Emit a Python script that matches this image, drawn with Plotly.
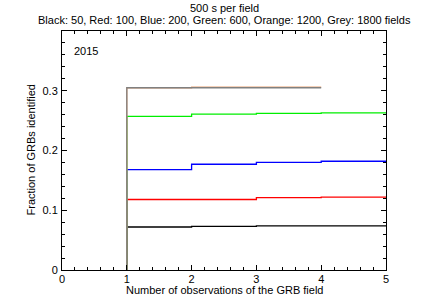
import plotly.graph_objects as go

# Data (step values starting at x=1)
x_full = [1, 2, 3, 4, 5]
x_short = [1, 2, 3, 4]
black = [0.072, 0.073, 0.074, 0.074]
red = [0.118, 0.118, 0.121, 0.122]
blue = [0.168, 0.177, 0.180, 0.182]
green = [0.257, 0.261, 0.262, 0.263]
orange = [0.305, 0.306, 0.306]
grey = [0.305, 0.305, 0.305]

y_tickvals = [0, 0.1, 0.2, 0.3]
y_ticktext = ["0", "0.1", "0.2", "0.3"]

series = [
    ("Black", black, x_full, "#000000"),
    ("Red", red, x_full, "#ff0000"),
    ("Blue", blue, x_full, "#0000ff"),
    ("Green", green, x_full, "#00ee00"),
    ("Orange", orange, x_short, "#e8a070"),
    ("Grey", grey, x_short, "#808080"),
]

fig = go.Figure()
for name, vals, xs, col in series:
    xx = [xs[0]] + list(xs[:len(vals)]) + [xs[len(vals)]]
    yy = [0] + list(vals) + [vals[-1]]
    fig.add_trace(go.Scatter(x=xx, y=yy, mode="lines", line=dict(color=col, width=1.3, shape="hv"),
                             name=name, showlegend=False, hoverinfo="skip"))

font = dict(family="Liberation Sans, Arial, sans-serif", size=11, color="black")
fig.update_layout(
    width=442, height=295,
    margin=dict(l=62, r=56, t=31, b=25, autoexpand=False),
    paper_bgcolor="white", plot_bgcolor="white",
    font=font,
    showlegend=False,
)
axis_common = dict(showline=True, linecolor="black", linewidth=1, mirror="allticks",
                   ticks="inside", ticklen=5, tickcolor="black", tickwidth=1,
                   showgrid=False, zeroline=False, tickfont=font, automargin=False)
fig.update_xaxes(range=[0, 5], dtick=1, tick0=0, ticklabelstandoff=-1,
                 minor=dict(ticks="inside", ticklen=3, dtick=0.2, tickcolor="black", showgrid=False),
                 **axis_common)
fig.update_yaxes(range=[0, 0.4], tickvals=y_tickvals, ticktext=y_ticktext, ticklabelstandoff=1,
                 minor=dict(ticks="inside", ticklen=3, dtick=0.02, tick0=0, tickcolor="black", showgrid=False),
                 **axis_common)

fig.update_layout(annotations=[
    dict(text="500 s per field", xref="paper", yref="paper", x=0.5, y=1 + 23/239,
         xanchor="center", yanchor="middle", showarrow=False, font=font),
    dict(text="Black: 50, Red: 100, Blue: 200, Green: 600, Orange: 1200, Grey: 1800 fields",
         xref="paper", yref="paper", x=0.5, y=1 + 11/239,
         xanchor="center", yanchor="middle", showarrow=False, font=font),
    dict(text="2015", xref="paper", yref="paper", x=10/324, y=1 - 20/239,
         xanchor="left", yanchor="middle", showarrow=False, font=font),
    dict(text="Number of observations of the GRB field", xref="paper", yref="paper",
         x=0.5, y=-20/239, xanchor="center", yanchor="middle", showarrow=False, font=font),
    dict(text="Fraction of GRBs identified", xref="paper", yref="paper",
         x=-32/324, y=0.5, xanchor="center", yanchor="middle", textangle=-90,
         showarrow=False, font=font),
])

fig.write_html("out.html", config={"displayModeBar": False},
               post_script="document.body.style.margin='0';")
